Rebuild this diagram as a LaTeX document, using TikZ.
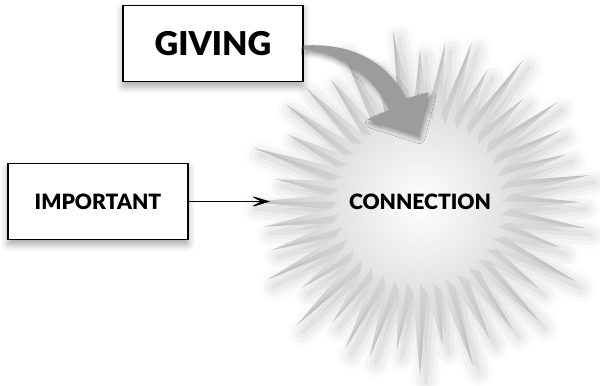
\documentclass[tikz,border=0pt]{standalone}
\usepackage{fontspec}
\setsansfont{Lato}[BoldFont={Lato Black}]
\usetikzlibrary{arrows.meta, positioning, calc, shadows.blur}

\begin{document}
\begin{tikzpicture}[
    x=0.03cm, y=-0.03cm,
    font=\sffamily\bfseries,
    label box/.style={
        draw,
        line width=1.1pt,
        fill=white,
        align=center,
        minimum width=5.4cm,
        minimum height=2.3cm,
        blur shadow={shadow xshift=0pt, shadow yshift=-4pt, shadow blur radius=6pt, shadow opacity=35}
    },
    burst/.style={
        inner color=white,
        outer color=gray!45,
        blur shadow={shadow xshift=5pt, shadow yshift=-6pt, shadow blur radius=12pt, shadow opacity=22}
    },
    bend arrow/.style={
        fill=gray!78,
        blur shadow={shadow xshift=2pt, shadow yshift=-3pt, shadow blur radius=4pt, shadow opacity=40}
    }
]
\useasboundingbox (0,0) rectangle (600,385);

%--- Star burst ---
\coordinate (burst) at (420,202);
\begin{scope}[shift={(burst)}]
\shade[burst] (-4.5:90)
    \foreach \i [evaluate=\i as \R using {160+15*sin(\i*151)}] in {0,...,39} {
        -- ({\i*9}:\R) -- ({\i*9+4.5}:90)
    } -- cycle;
% darker half of each spike
\foreach \i [evaluate=\i as \R using {160+15*sin(\i*151)}] in {0,...,39}
    \fill[black, opacity=0.06] ({\i*9-4.5}:90) -- ({\i*9}:\R) -- ({\i*9}:82) -- cycle;
\end{scope}

\node (connection) at (burst) {\fontsize{18}{21}\selectfont CONNECTION};

%--- Boxes ---
\node[label box] (giving) at (213,43.5) {\fontsize{28}{32}\selectfont GIVING};
\node[label box] (important) at (98,201.5) {\fontsize{18}{21}\selectfont IMPORTANT};

%--- Curved arrow from GIVING ---
\begin{scope}[shift={(giving.east)}]
\fill[bend arrow] (0,2)
    .. controls (50,-1) and (85,20) .. (102,55)
    -- (125,49) -- (114,92) -- (64,76) -- (86,66)
    .. controls (70,35) and (40,10) .. (0,6) -- cycle;
\end{scope}

%--- Arrow from IMPORTANT ---
\coordinate (tip) at (270,201.5);
\draw[-{Stealth[length=6.5mm, width=4mm, inset=3.8mm]}, line width=0.9pt]
    (important.east) -- (tip);

\end{tikzpicture}
\end{document}
